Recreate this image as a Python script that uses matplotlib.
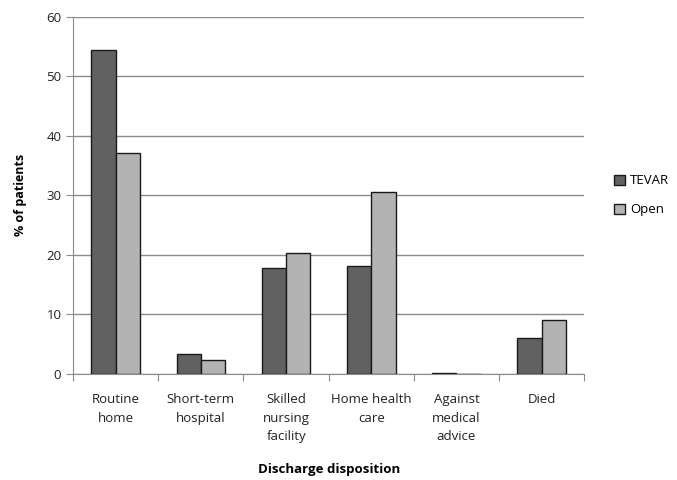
import matplotlib.pyplot as plt
import numpy as np

plt.rcParams['font.family'] = ['Open Sans', 'DejaVu Sans']

categories = ['Routine\nhome', 'Short-term\nhospital', 'Skilled\nnursing\nfacility',
              'Home health\ncare', 'Against\nmedical\nadvice', 'Died']
tevar = [54.5, 3.4, 17.8, 18.2, 0.2, 6.0]
open_repair = [37.1, 2.4, 20.3, 30.6, 0.0, 9.1]

fig = plt.figure(figsize=(6.77, 4.8), dpi=100)
ax = fig.add_axes([0.108, 0.221, 0.755, 0.744])

x = np.arange(len(categories))
w = 0.285
ax.bar(x - w / 2, tevar, w, color='#616161', edgecolor='#1a1a1a', linewidth=1.0,
       label='TEVAR', zorder=3)
ax.bar(x + w / 2, open_repair, w, color='#b3b3b3', edgecolor='#1a1a1a', linewidth=1.0,
       label='Open', zorder=3)

ax.set_xlim(-0.5, len(categories) - 0.5)
ax.set_ylim(0, 60)
ax.set_yticks(range(0, 61, 10))
ax.yaxis.grid(True, color='#8c8c8c', linewidth=1.0, zorder=0)

# category boundary ticks on x axis
ax.set_xticks(np.arange(-0.5, len(categories), 1.0))
ax.set_xticklabels([])
ax.set_xticks(x, minor=True)
ax.set_xticklabels(categories, minor=True, fontsize=9.5, color='#222222', linespacing=1.55)
ax.tick_params(axis='x', which='minor', length=0, pad=14)
ax.tick_params(axis='x', which='major', length=5, color='#8c8c8c', direction='out')
ax.tick_params(axis='y', length=5, color='#8c8c8c', labelsize=9.5, labelcolor='#222222')

for s in ['top', 'right']:
    ax.spines[s].set_visible(False)
for s in ['left', 'bottom']:
    ax.spines[s].set_color('#8c8c8c')

ax.set_ylabel('% of patients', fontsize=9, fontweight='bold', labelpad=14)
ax.set_xlabel('Discharge disposition', fontsize=9.5, fontweight='bold', labelpad=14)

ax.legend(loc='center left', bbox_to_anchor=(1.035, 0.5), frameon=False, fontsize=9.5,
          handlelength=0.8, handleheight=0.8, handletextpad=0.4, labelspacing=1.2)

plt.savefig('out.png', dpi=100)
